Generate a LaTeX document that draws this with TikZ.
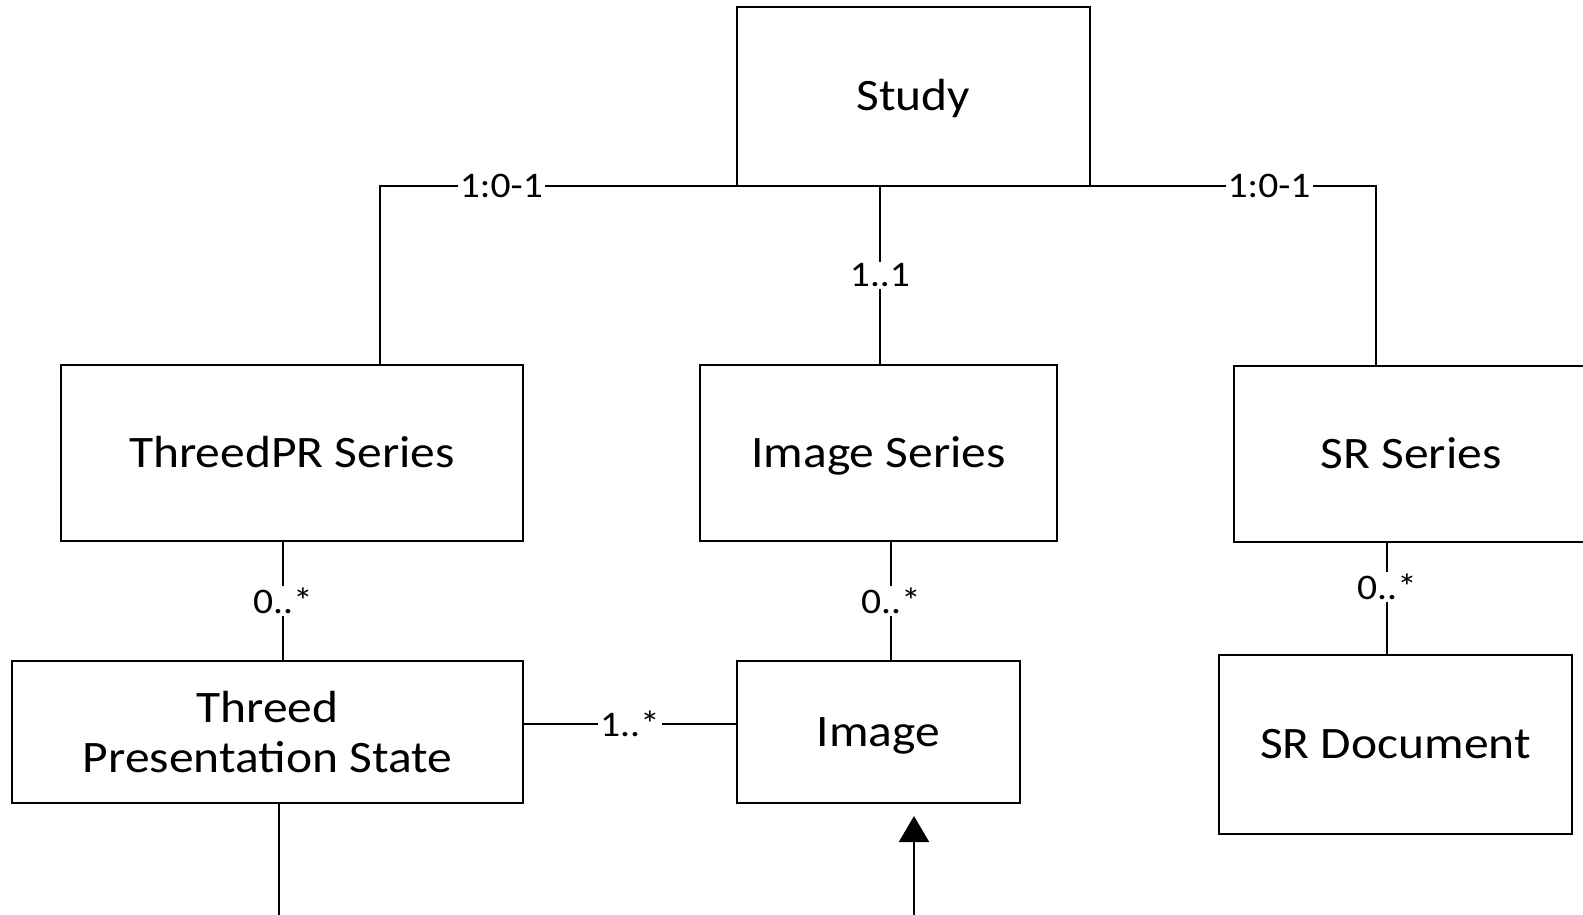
\documentclass[tikz,border=0pt]{standalone}
\usepackage{fontspec}
\setmainfont{Carlito}[FakeStretch=1.1]
\usetikzlibrary{arrows.meta}
\tikzset{
  box/.style={draw, line width=2pt, inner sep=0pt, outer sep=0pt, align=center,
    font=\fontsize{45}{50}\selectfont},
  oneline/.style={box, text height=28.5pt, text depth=0pt},
  lbl/.style={fill=white, inner sep=2pt, font=\fontsize{36}{40}\selectfont},
  conn/.style={line width=2pt},
}
\begin{document}
\begin{tikzpicture}[x=1pt,y=-1pt]
\useasboundingbox (0,0) rectangle (1583,915);
\clip (0,0) rectangle (1583,915);
\node[oneline, minimum width=353pt, minimum height=179pt] (study) at (913.5,96.5) {Study};
\node[oneline, minimum width=462pt, minimum height=176pt] (tprs) at (292,453) {ThreedPR Series};
\node[oneline, minimum width=357pt, minimum height=176pt] (isr) at (878.5,453) {Image Series};
\node[oneline, minimum width=354pt, minimum height=176pt] (srs) at (1411,454) {SR Series};
\node[box, minimum width=511pt, minimum height=142pt] (tps) at (267.5,732) {Threed\\Presentation State};
\node[oneline, minimum width=283pt, minimum height=142pt] (img) at (878.5,732) {Image};
\node[oneline, minimum width=353pt, minimum height=179pt] (srd) at (1395.5,744.5) {SR Document};

\coordinate (jL) at (380,186);
\coordinate (jR) at (1376,186);
\coordinate (xM) at (880,0);
\coordinate (xA) at (283,0);
\coordinate (xB) at (891,0);
\coordinate (xC) at (1387,0);
\coordinate (yD) at (0,724);
\coordinate (tpsEnd) at (279,915);
\coordinate (arrStart) at (914,915);

\draw[conn] (jL |- tprs.north) -- (jL) -- node[lbl, pos=0.34] {1:0-1} (study.south west);
\draw[conn] (study.south east) -- node[lbl, pos=0.626] {1:0-1} (jR) -- (jR |- srs.north);
\draw[conn] (xM |- study.south) -- node[lbl] {1..1} (xM |- isr.north);
\draw[conn] (xA |- tprs.south) -- node[lbl] {0..*} (xA |- tps.north);
\draw[conn] (xB |- isr.south) -- node[lbl] {0..*} (xB |- img.north);
\draw[conn] (xC |- srs.south) -- node[lbl, pos=0.4] {0..*} (xC |- srd.north);
\draw[conn] (tps.east |- yD) -- node[lbl] {1..*} (img.west |- yD);
\draw[conn] (tpsEnd |- tps.south) -- (tpsEnd);
\draw[conn, -{Triangle[width=30pt,length=26pt]}] (arrStart) -- ([yshift=-13pt]arrStart |- img.south);
\end{tikzpicture}
\end{document}
